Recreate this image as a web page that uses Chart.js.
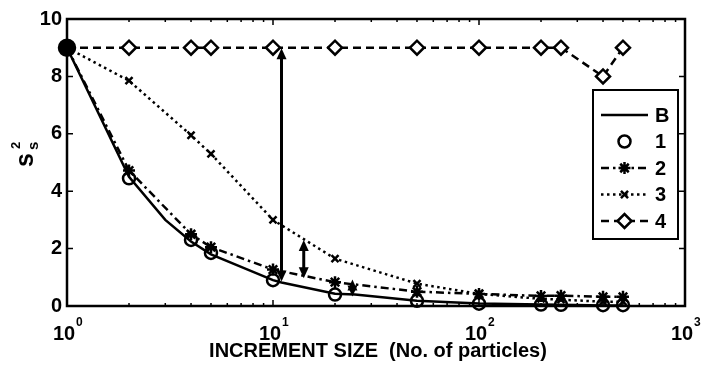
<!DOCTYPE html>
<html><head><meta charset="utf-8">
<script src="https://cdn.jsdelivr.net/npm/chart.js@4/dist/chart.umd.min.js"></script>
<style>html,body{margin:0;padding:0;background:#fff;}canvas{display:block;}</style>
</head><body>
<canvas id="c" width="702" height="373"></canvas>
<script>
// ---- data ----
const seriesLabels = ['B', '1', '2', '3', '4'];
const xB = [1, 2, 3, 4, 5, 10, 11, 20, 25, 50, 100, 200, 250, 400, 500];
const yB = [9, 4.5, 3.0, 2.25, 1.8, 0.9, 0.82, 0.43, 0.4, 0.18, 0.09, 0.05, 0.04, 0.02, 0.02];
const x1 = [1, 2, 4, 5, 10, 20, 50, 100, 200, 250, 400, 500];
const y1 = [9, 4.45, 2.3, 1.85, 0.9, 0.4, 0.18, 0.08, 0.05, 0.04, 0.03, 0.03];
const x2 = [1, 2, 4, 5, 10, 20, 50, 100, 200, 250, 400, 500];
const y2 = [9, 4.72, 2.5, 2.05, 1.27, 0.83, 0.5, 0.42, 0.35, 0.36, 0.32, 0.32];
const x3 = [1, 2, 4, 5, 10, 20, 50, 100, 200, 250, 400, 500];
const y3 = [9, 7.85, 5.95, 5.3, 3.0, 1.65, 0.78, 0.42, 0.25, 0.22, 0.15, 0.15];
const x4 = [1, 2, 4, 5, 10, 20, 50, 100, 200, 250, 400, 500];
const y4 = [9, 9, 9, 9, 9, 9, 9, 9, 9, 9, 8, 9];
const xTickValues = [1, 10, 100, 1000];
const xTickExponents = ['0', '1', '2', '3'];
const yTickValues = [0, 2, 4, 6, 8, 10];
const xTitle = 'INCREMENT SIZE  (No. of particles)';
const arrows = [
  { x: 11, from: 8.98, to: 0.85 },
  { x: 14.1, from: 2.3, to: 0.97 },
  { x: 24.3, from: 0.92, to: 0.33 }
];

const pts = (xs, ys) => xs.map((x, i) => ({ x: x, y: ys[i] }));
const FONT = '"Liberation Sans", Arial, sans-serif';

const frame = {
  id: 'frame',
  afterDraw(chart) {
    const ctx = chart.ctx;
    const { left, right, top, bottom } = chart.chartArea;
    const xs = chart.scales.x, ys = chart.scales.y;
    ctx.save();
    ctx.strokeStyle = '#000';
    ctx.fillStyle = '#000';
    // arrows
    ctx.lineWidth = 3;
    arrows.forEach(a => {
      const px = xs.getPixelForValue(a.x);
      const p1 = ys.getPixelForValue(a.from);
      const p2 = ys.getPixelForValue(a.to);
      const L = 11, W = 5;
      ctx.beginPath(); ctx.moveTo(px, p1 + L - 1); ctx.lineTo(px, p2 - L + 1); ctx.stroke();
      ctx.beginPath(); ctx.moveTo(px, p1); ctx.lineTo(px - W, p1 + L); ctx.lineTo(px + W, p1 + L); ctx.closePath(); ctx.fill();
      ctx.beginPath(); ctx.moveTo(px, p2); ctx.lineTo(px - W, p2 - L); ctx.lineTo(px + W, p2 - L); ctx.closePath(); ctx.fill();
    });
    // box
    ctx.lineWidth = 2.5;
    ctx.strokeRect(left, top, right - left, bottom - top);
    // inward ticks
    ctx.lineWidth = 1.5;
    ctx.beginPath();
    yTickValues.forEach(v => {
      const py = ys.getPixelForValue(v);
      ctx.moveTo(left, py); ctx.lineTo(left + 6, py);
      ctx.moveTo(right, py); ctx.lineTo(right - 6, py);
    });
    for (let d = 0; d < 3; d++) {
      for (let k = 1; k <= 9; k++) {
        const v = k * Math.pow(10, d);
        const px = xs.getPixelForValue(v);
        const len = k === 1 ? 6 : 3;
        ctx.moveTo(px, bottom); ctx.lineTo(px, bottom - len);
        ctx.moveTo(px, top); ctx.lineTo(px, top + len);
      }
    }
    ctx.stroke();
    // x tick labels with exponents
    ctx.textBaseline = 'alphabetic';
    xTickValues.forEach((v, i) => {
      const px = xs.getPixelForValue(v);
      ctx.font = 'bold 20px ' + FONT;
      ctx.textAlign = 'center';
      ctx.fillText('10', px - 3, 340);
      ctx.font = 'bold 12px ' + FONT;
      ctx.textAlign = 'left';
      ctx.fillText(xTickExponents[i], px + 9, 326);
    });
    // x title
    ctx.font = 'bold 20px ' + FONT;
    ctx.textAlign = 'center';
    ctx.fillText(xTitle, (left + right) / 2 + 2, 357);
    // y title  s_s^2 (rotated)
    ctx.save();
    ctx.translate(27, 160);
    ctx.rotate(-Math.PI / 2);
    ctx.font = 'bold 25px ' + FONT;
    ctx.textAlign = 'center';
    ctx.fillText('s', 0, 6);
    ctx.textAlign = 'left';
    ctx.font = 'bold 13px ' + FONT;
    ctx.fillText('2', 11, -7);
    ctx.font = 'bold 15px ' + FONT;
    ctx.fillText('s', 10, 11);
    ctx.restore();
    // legend
    const bx = 593, by = 90, bw = 85, bh = 149;
    ctx.fillStyle = '#fff';
    ctx.fillRect(bx, by, bw, bh);
    ctx.lineWidth = 2;
    ctx.strokeRect(bx, by, bw, bh);
    chart.data.datasets.forEach((ds, i) => {
      const cy = by + 25 + i * 26.5;
      ctx.strokeStyle = '#000';
      ctx.fillStyle = '#000';
      if (ds.showLine !== false) {
        ctx.save();
        ctx.lineWidth = ds.borderWidth;
        ctx.setLineDash(ds.borderDash || []);
        ctx.beginPath(); ctx.moveTo(601, cy); ctx.lineTo(648, cy); ctx.stroke();
        ctx.restore();
      }
      if (ds.legendRadius) {
        ctx.save();
        ctx.lineWidth = ds.pointBorderWidth;
        ctx.setLineDash([]);
        ctx.fillStyle = '#fff';
        Chart.helpers.drawPoint(ctx, { pointStyle: ds.pointStyle, radius: ds.legendRadius, rotation: 0, borderWidth: ds.pointBorderWidth }, 624.5, cy);
        ctx.restore();
      }
      ctx.fillStyle = '#000';
      ctx.font = 'bold 20px ' + FONT;
      ctx.textAlign = 'left';
      ctx.textBaseline = 'middle';
      ctx.fillText(ds.label, 655, cy + 1);
    });
    ctx.restore();
  }
};

new Chart(document.getElementById('c'), {
  type: 'line',
  data: {
    datasets: [
      { label: seriesLabels[0], data: pts(xB, yB), borderColor: '#000', borderWidth: 2.5, pointRadius: 0, legendRadius: 0, tension: 0, clip: false },
      { label: seriesLabels[1], data: pts(x1, y1), showLine: false, borderColor: '#000', pointStyle: 'circle',
        pointRadius: c => c.dataIndex === 0 ? 8 : 6, legendRadius: 6, pointBorderWidth: 2.5, pointBorderColor: '#000',
        pointBackgroundColor: c => c.dataIndex === 0 ? '#000' : 'rgba(255,255,255,0)', clip: false },
      { label: seriesLabels[2], data: pts(x2, y2), borderColor: '#000', borderWidth: 2.5, borderDash: [8, 4, 2.5, 4],
        pointStyle: 'star', pointRadius: 6, legendRadius: 6, pointBorderWidth: 2.5, pointBorderColor: '#000', pointBackgroundColor: '#000', clip: false },
      { label: seriesLabels[3], data: pts(x3, y3), borderColor: '#000', borderWidth: 2.5, borderDash: [2.5, 3.5],
        pointStyle: 'crossRot', pointRadius: 5, legendRadius: 5, pointBorderWidth: 2.5, pointBorderColor: '#000', clip: false },
      { label: seriesLabels[4], data: pts(x4, y4), borderColor: '#000', borderWidth: 2.5, borderDash: [8, 5],
        pointStyle: 'rectRot', pointRadius: 7, legendRadius: 7, pointBorderWidth: 2.5, pointBorderColor: '#000', pointBackgroundColor: '#fff', clip: false }
    ]
  },
  options: {
    responsive: false,
    animation: false,
    layout: { padding: { top: 19, right: 17, left: 0, bottom: 0 } },
    plugins: { legend: { display: false }, tooltip: { enabled: false } },
    elements: { line: { tension: 0 } },
    scales: {
      x: {
        type: 'logarithmic', min: 1, max: 1000,
        grid: { display: false, drawTicks: false },
        border: { display: false },
        ticks: { display: false },
        afterFit: s => { s.height = 67; }
      },
      y: {
        min: 0, max: 10,
        afterBuildTicks: s => { s.ticks = yTickValues.map(v => ({ value: v })); },
        grid: { display: false, drawTicks: false },
        border: { display: false },
        ticks: { color: '#000', padding: 5, font: { family: FONT, size: 20, weight: 'bold' } },
        afterFit: s => { s.width = 67; }
      }
    }
  },
  plugins: [frame]
});
</script>
</body></html>
